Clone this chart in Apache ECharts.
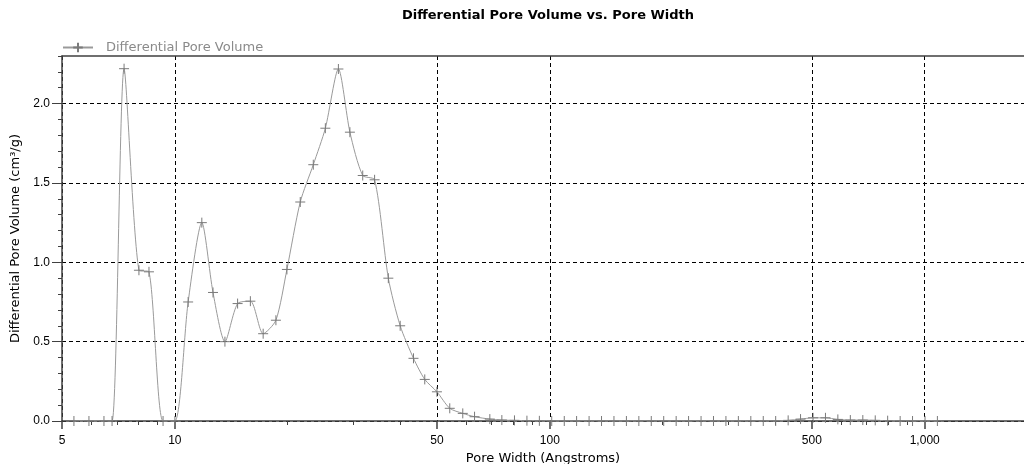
<!DOCTYPE html>
<html>
<head>
<meta charset="utf-8">
<script src="https://cdn.jsdelivr.net/npm/echarts@6.0.0/dist/echarts.min.js"></script>
<style>
  html, body { margin: 0; padding: 0; background: #fff; }
  #chart { width: 1024px; height: 464px; }
</style>
</head>
<body>
<div id="chart"></div>
<script>
// pore width (Angstroms)
var poreWidth = [5.38, 5.9, 6.47, 6.8, 7.32, 8.02, 8.53, 9.3, 10.0, 10.85, 11.8, 12.64, 13.6, 14.7, 15.9,
  17.2, 18.6, 19.9, 21.6, 23.4, 25.2, 27.3, 29.3, 31.7, 34.1, 37.1, 39.9, 43.3, 46.4, 50.0, 54.1, 58.6,
  63.0, 69.2, 74.5, 80.5, 86.9, 93.8, 101.2, 109.3, 117.9, 127.3, 137.4, 148.3, 160.1, 172.8, 186.5,
  201.3, 217.3, 234.5, 253.2, 273.3, 295.0, 318.4, 343.7, 371.0, 400.4, 432.3, 466.5, 503.7, 543.6,
  586.6, 633.3, 683.8, 738, 796.5, 860, 928, 1002, 1081];
// differential pore volume (cm3/g)
var poreVolume = [0, 0, 0, 0, 2.22, 0.95, 0.94, 0, 0, 0.75, 1.25, 0.81, 0.50, 0.74, 0.755,
  0.55, 0.635, 0.955, 1.38, 1.615, 1.845, 2.218, 1.82, 1.547, 1.52, 0.90, 0.60, 0.395, 0.262, 0.184, 0.08, 0.048,
  0.027, 0.012, 0.006, 0.004, 0.002, 0.001, 0, 0, 0, 0, 0, 0, 0, 0, 0,
  0, 0, 0, 0, 0, 0, 0, 0, 0, 0, 0.004, 0.012, 0.02, 0.02,
  0.01, 0.006, 0.006, 0.004, 0.002, 0, 0, 0, 0];

var xLabelTicks = [5, 10, 50, 100, 500, 1000];
var xMinorTicks = [6, 7, 8, 9, 20, 30, 40, 60, 70, 80, 90, 200, 300, 400, 600, 700, 800, 900];
var yLabelTicks = [0, 0.5, 1.0, 1.5, 2.0];

var font = 'Arial, "Liberation Sans", sans-serif';
var wideFont = '"DejaVu Sans", sans-serif';
var axisColor = '#404040';

var seriesData = poreWidth.map(function (w, i) { return [w, poreVolume[i]]; });

var chart = echarts.init(document.getElementById('chart'));
chart.setOption({
  animation: false,
  title: {
    text: 'Differential Pore Volume vs. Pore Width',
    left: 397,
    top: 4,
    textStyle: { fontFamily: wideFont, fontSize: 13, fontWeight: 'bold', color: '#000' }
  },
  legend: {
    left: 62,
    top: 41,
    padding: 0,
    itemWidth: 30,
    itemHeight: 12,
    textStyle: { fontFamily: wideFont, fontSize: 13, color: '#8a8a8a', padding: [0, 0, 0, 8] },
    data: ['Differential Pore Volume']
  },
  grid: { left: 62, right: 0, top: 56, bottom: 43, outerBoundsMode: 'none' },
  xAxis: [{
    type: 'log',
    min: 5,
    max: 1840,
    position: 'bottom',
    name: 'Pore Width (Angstroms)',
    nameLocation: 'middle',
    nameGap: 30,
    nameTextStyle: { fontFamily: wideFont, fontSize: 13, color: '#000' },
    axisLine: { lineStyle: { color: axisColor, width: 1.5 } },
    axisTick: { customValues: xLabelTicks, length: 8, lineStyle: { color: axisColor, width: 1.5 } },
    axisLabel: {
      customValues: xLabelTicks,
      margin: 14,
      fontFamily: font, fontSize: 12, color: '#000',
      formatter: function (v) { return Math.round(v).toLocaleString('en-US'); }
    },
    splitLine: { show: true, lineStyle: { color: '#000', type: [4, 3], width: 1 } }
  }, {
    type: 'log',
    min: 5,
    max: 1840,
    position: 'bottom',
    axisLine: { show: false },
    axisTick: { customValues: xMinorTicks, length: 4, lineStyle: { color: axisColor } },
    axisLabel: { show: false },
    splitLine: { show: false }
  }, {
    type: 'log',
    min: 5,
    max: 1840,
    position: 'top',
    axisLine: { show: true, lineStyle: { color: axisColor, width: 1.5 } },
    axisTick: { show: false },
    axisLabel: { show: false },
    splitLine: { show: false }
  }],
  yAxis: [{
    type: 'value',
    min: 0,
    max: 2.3,
    name: 'Differential Pore Volume (cm³/g)',
    nameLocation: 'middle',
    nameGap: 38,
    nameTextStyle: { fontFamily: wideFont, fontSize: 13, color: '#000' },
    axisLine: { show: true, lineStyle: { color: axisColor, width: 1.5 } },
    axisTick: { customValues: yLabelTicks, length: 10, lineStyle: { color: axisColor } },
    axisLabel: {
      customValues: yLabelTicks,
      margin: 12,
      fontFamily: font, fontSize: 12, color: '#000',
      formatter: function (v) { return v.toFixed(1); }
    },
    splitLine: { show: true, lineStyle: { color: '#000', type: [4, 3], width: 1 } }
  }, {
    type: 'value',
    min: 0,
    max: 2.3,
    interval: 0.1,
    position: 'left',
    axisLine: { show: false },
    axisTick: { show: true, length: 4, lineStyle: { color: axisColor } },
    axisLabel: { show: false },
    splitLine: { show: false }
  }],
  series: [{
    name: 'Differential Pore Volume',
    type: 'line',
    xAxisIndex: 0,
    yAxisIndex: 0,
    smooth: 0.25,
    symbol: 'path://M0,5 L10,5 M5,0 L5,10',
    symbolSize: 10,
    itemStyle: { color: '#7a7a7a', borderColor: '#7a7a7a', borderWidth: 1 },
    lineStyle: { color: '#9a9a9a', width: 1 },
    data: seriesData
  }]
});
</script>
</body>
</html>
